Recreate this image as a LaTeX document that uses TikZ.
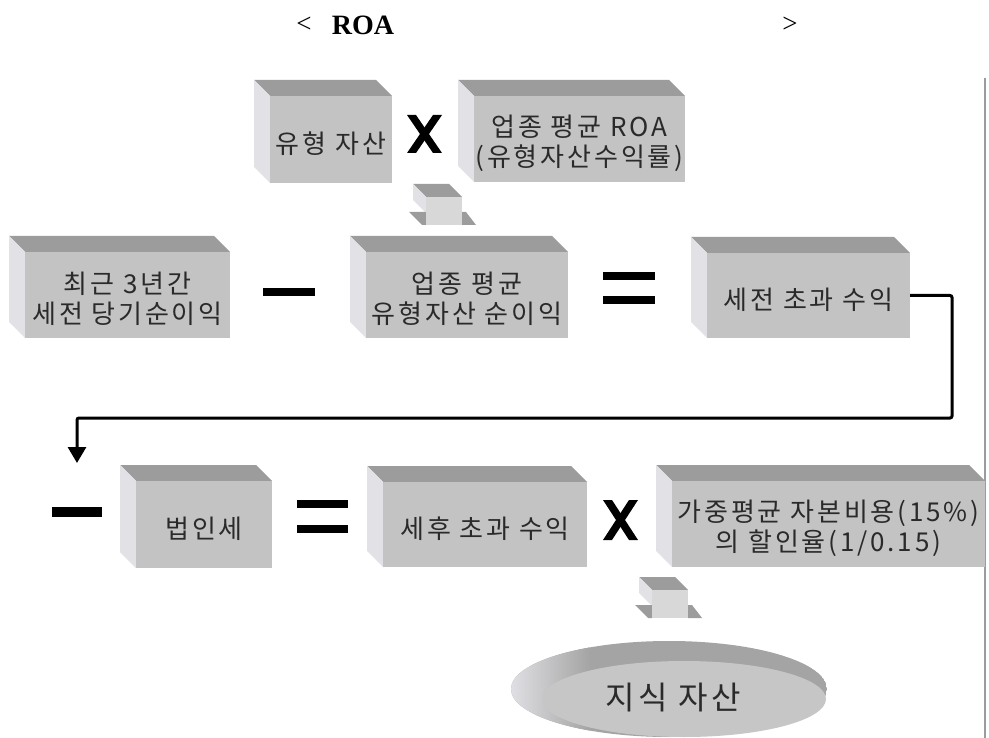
\documentclass[tikz,border=0pt]{standalone}
\usepackage{fontspec}
\setmainfont{Liberation Serif}
\newfontfamily\kr[LetterSpace=11]{Noto Sans CJK KR}
\usetikzlibrary{calc,arrows.meta,shapes.geometric}
\definecolor{topc}{HTML}{9C9C9C}
\definecolor{frontc}{HTML}{C3C3C3}
\definecolor{sidec}{HTML}{E2E2E6}
\definecolor{shaftc}{HTML}{D8D8D8}
\definecolor{txtc}{HTML}{2A2A2A}
\definecolor{diskback}{HTML}{A4A4A4}
\definecolor{diskface}{HTML}{C6C6C6}
\newcommand\krbox[6]{%
  \fill[topc] (#2-16,#3-16) -- (#4-16,#3-16) -- (#4,#3) -- (#2,#3) -- cycle;
  \fill[sidec] (#2-16,#3-16) -- (#2,#3) -- (#2,#5) -- (#2-16,#5-16) -- cycle;
  \node[frontbox, minimum width={#4-#2}, minimum height={#5-#3}] (#1) at ({(#2+#4)/2},{(#3+#5)/2}) {};
  \node[boxtext] (#1t) at ($(#1.center)+(0,4)$) {#6};
}
\newcommand\smallarrow[2]{%
  \fill[topc] (#1-13,#2-13) -- (#1+23,#2-13) -- (#1+36,#2) -- (#1,#2) -- cycle;
  \fill[sidec] (#1-13,#2-13) -- (#1,#2) -- (#1,#2+16) -- (#1-13,#2+3) -- cycle;
  \fill[topc] (#1-17,#2+15) -- (#1,#2+15) -- (#1,#2+28) -- (#1-4,#2+28) -- cycle;
  \fill[topc] (#1+36,#2+15) -- (#1+40,#2+15) -- (#1+50,#2+28) -- (#1+36,#2+28) -- cycle;
  \fill[shaftc] (#1,#2) rectangle (#1+36,#2+28);
}
\newcommand\timesmark[4]{%
  \fill[black] (#1,#2) -- (#1+9,#2) -- (#3,#4) -- (#3-9,#4) -- cycle;
  \fill[black] (#3-9,#2) -- (#3,#2) -- (#1+9,#4) -- (#1,#4) -- cycle;
}
\begin{document}
\begin{tikzpicture}[x=1pt,y=-1pt,
  frontbox/.style={fill=frontc, inner sep=0pt},
  boxtext/.style={inner sep=0pt, text=txtc, align=center,
    font=\kr\fontsize{26}{30}\selectfont},
  bar/.style={fill=black, inner sep=0pt, minimum width=52pt, minimum height=8.5pt},
  conn/.style={line width=3pt, black, rounded corners=2pt, -{Triangle[width=18pt,length=16pt]}},
  disktext/.style={text=txtc, font=\kr\fontsize{32}{36}\selectfont, inner sep=0pt}]
\fill[white] (0,0) rectangle (989,738);
\useasboundingbox (0,0) rectangle (989,738);
% title
\node[font=\fontsize{27}{30}\selectfont, inner sep=0pt] (tlt) at (304,25) {<};
\node[font=\bfseries\fontsize{28}{30}\selectfont, inner sep=0pt] (troa) at (363,25) {ROA};
\node[font=\fontsize{27}{30}\selectfont, inner sep=0pt] (tgt) at (790,25) {>};
% right rule
\draw[line width=2.5pt, color=topc] (985,78) -- (985,738);
% row 1
\krbox{b1}{270}{96}{392}{183}{유형 자산}
\timesmark{407}{115}{442}{153}
\krbox{b2}{474}{96}{685}{182}{업종 평균 ROA\\(유형자산수익률)}
\smallarrow{426}{197}
% row 2
\krbox{b3}{25}{252}{230}{338}{최근 3년간\\세전 당기순이익}
\node[bar] (minus1) at (289,292) {};
\krbox{b4}{366}{252}{568}{338}{업종 평균\\유형자산 순이익}
\node[bar] (eq1a) at (629,276) {};
\node[bar] (eq1b) at (629,300) {};
\krbox{b5}{707}{253}{910}{338}{세전 초과 수익}
% row 3
\node[bar, minimum width=50pt, minimum height=10pt] (minus2) at (77,512) {};
\coordinate (turn) at (952,418);
\coordinate (tip) at (77,463);
\draw[conn] (b5.east) -| (turn) -| (tip);
\krbox{b7}{136}{481}{272}{568}{법인세}
\node[bar, minimum width=51pt] (eq2a) at (322,504) {};
\node[bar, minimum width=51pt] (eq2b) at (322,529) {};
\krbox{b8}{383}{482}{587}{567}{세후 초과 수익}
\timesmark{603}{500}{638}{540}
\krbox{b6}{672}{481}{985}{567}{가중평균 자본비용(15\%)\\의 할인율(1/0.15)}
\smallarrow{652}{590}
% disk
\begin{scope}
  \clip (669,689) ellipse [x radius=158, y radius=48];
  \fill[diskback] (669,689) ellipse [x radius=158, y radius=48];
  \shade[left color=sidec, right color=diskback] (508,630) rectangle (590,740);
\end{scope}
\node[ellipse, fill=diskface, inner sep=0pt, minimum width=284pt, minimum height=76pt] (disk) at (684,699) {};
\node[disktext] (disklabel) at (673,698) {지식 자산};
\end{tikzpicture}
\end{document}
